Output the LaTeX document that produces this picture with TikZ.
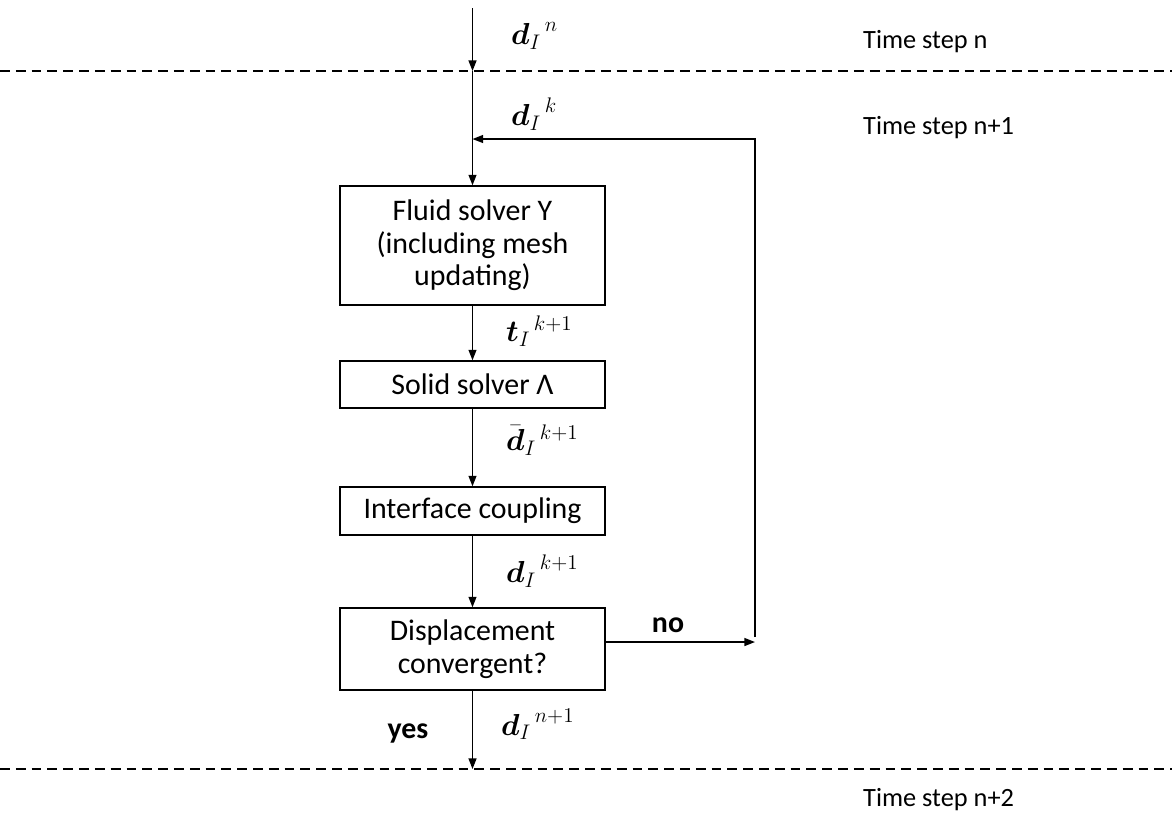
\documentclass[tikz,border=0pt]{standalone}
\usepackage{amsmath}
\usepackage{fontspec}
\setmainfont{Carlito}
\usetikzlibrary{arrows.meta}

\tikzset{
  stepbox/.style={draw, line width=0.8pt, minimum width=5.3cm, align=center, font=\fontsize{17}{18.5}\selectfont},
  flow/.style={line width=0.8pt, -{Triangle[length=6pt,width=4.5pt]}},
  cut/.style={line width=1.1pt, dash pattern=on 5.6pt off 3.4pt},
  qty/.style={anchor=west, font=\fontsize{18}{20}\selectfont},
  stamp/.style={anchor=west, font=\fontsize{15}{18}\selectfont},
  answer/.style={font=\fontsize{17}{19}\selectfont\bfseries},
}

\begin{document}
\begin{tikzpicture}[x=0.02cm, y=-0.02cm]
    \useasboundingbox (0,0) rectangle (1172,822);

    \node[stepbox, minimum height=2.38cm] (fluid) at (472.5,245.5) {Fluid solver Y\\(including mesh\\updating)};
    \node[stepbox, minimum height=0.94cm] (solid) at (472.5,384.5) {Solid solver Λ};
    \node[stepbox, minimum height=0.96cm] (couple) at (472.5,511) {Interface coupling};
    \node[stepbox, minimum height=1.64cm] (conv) at (472.5,649) {Displacement\\convergent?};

    \coordinate (start) at (472.5,8);
    \coordinate (cutn) at (472.5,71);
    \coordinate (cutnn) at (472.5,769);
    \coordinate (join) at (472.5,139);
    \coordinate (corner) at (755,139);
    \coordinate (nostart) at (755,637);
    \coordinate (noend) at (755,642);

    \draw[cut] (0,71) -- (1172,71);
    \draw[cut] (0,769) -- (1172,769);

    \draw[flow] (start) -- (cutn);
    \draw[flow] (cutn) -- (fluid.north);
    \draw[flow] (nostart) -- (corner) -- (join);
    \draw[flow] (fluid) -- (solid);
    \draw[flow] (solid) -- (couple);
    \draw[flow] (couple) -- (conv);
    \draw[flow] (conv.east |- noend) -- (noend);
    \draw[flow] (conv) -- (cutnn);

    \node[qty] (dn) at (505,36) {${\boldsymbol{d}_I}^{\,n}$};
    \node[qty] (dk) at (505,114) {${\boldsymbol{d}_I}^{\,k}$};
    \node[qty] (tk) at (500,331) {${\boldsymbol{t}_I}^{\,k+1}$};
    \node[qty] (dbar) at (500,440) {$\bar{\boldsymbol{d}}_I{}^{\,k+1}$};
    \node[qty] (dk1) at (500,571) {${\boldsymbol{d}_I}^{\,k+1}$};
    \node[qty] (dn1) at (495,724) {${\boldsymbol{d}_I}^{\,n+1}$};

    \node[answer] (no) at (668,625) {no};
    \node[answer] (yes) at (408,733) {yes};

    \node[stamp] (tsn) at (857,42) {Time step n};
    \node[stamp] (tsn1) at (857,128) {Time step n+1};
    \node[stamp] (tsn2) at (857,800) {Time step n+2};
\end{tikzpicture}
\end{document}
